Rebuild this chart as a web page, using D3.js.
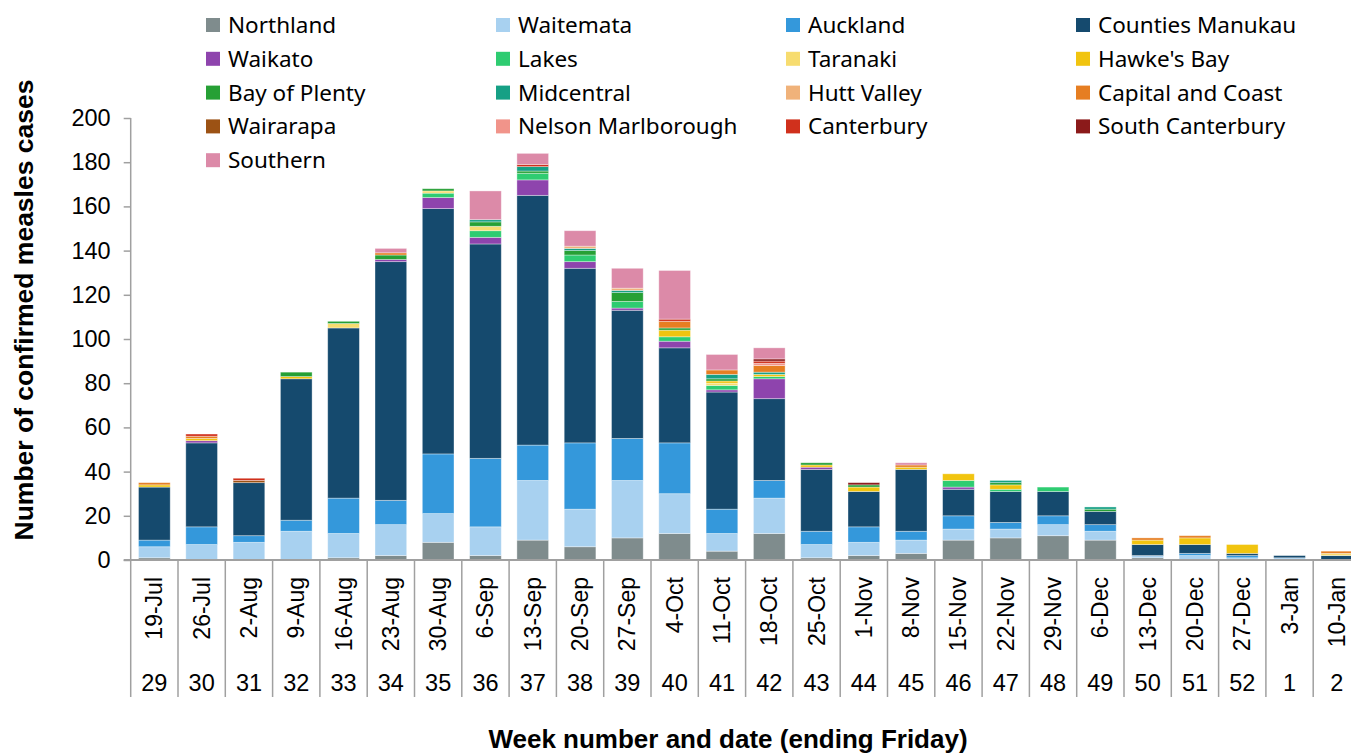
<!DOCTYPE html>
<html>
<head>
<meta charset="utf-8">
<script src="https://cdn.jsdelivr.net/npm/d3@7"></script>
<style>
  body { margin: 0; background: #fff; }
  svg { display: block; }
  .tick text { font-family: "Liberation Sans", Arial, sans-serif; }
</style>
</head>
<body>
<div id="container"></div>
<script>
const weeks = ["19-Jul","26-Jul","2-Aug","9-Aug","16-Aug","23-Aug","30-Aug","6-Sep","13-Sep","20-Sep","27-Sep","4-Oct","11-Oct","18-Oct","25-Oct","1-Nov","8-Nov","15-Nov","22-Nov","29-Nov","6-Dec","13-Dec","20-Dec","27-Dec","3-Jan","10-Jan"];
const weekNums = ["29","30","31","32","33","34","35","36","37","38","39","40","41","42","43","44","45","46","47","48","49","50","51","52","1","2"];

const regions = ["Northland","Waitemata","Auckland","Counties Manukau","Waikato","Lakes","Taranaki","Hawke's Bay","Bay of Plenty","Midcentral","Hutt Valley","Capital and Coast","Wairarapa","Nelson Marlborough","Canterbury","South Canterbury","Southern"];
const colors = ["#7f8c8d","#a8d1f0","#3498db","#154a6e","#8e44ad","#2ecc71","#f7dc6f","#f1c40f","#26a035","#16a085","#f0b27a","#e67e22","#9c5214","#f1948a","#d0301c","#8b1a1a","#dc8aa8"];

const northland   = [1,0,0,0,1,2,8,2,9,6,10,12,4,12,1,2,3,9,10,11,9,1,0,0,0,0];
const waitemata   = [5,7,8,13,11,14,13,13,27,17,26,18,8,16,6,6,6,5,4,5,4,1,2,1,1,0];
const auckland    = [3,8,3,5,16,11,27,31,16,30,19,23,11,8,6,7,4,6,3,4,3,0,1,1,0,0];
const countiesM   = [24,38,24,64,77,108,111,97,113,79,58,43,53,37,28,16,28,12,14,11,6,5,4,1,1,2];
const waikato     = [0,1,0,0,0,1,5,3,7,3,1,3,1,9,1,0,0,1,0,0,0,0,0,0,0,0];
const lakes       = [0,0,0,0,0,0,2,3,3,3,3,2,2,1,0,0,0,3,1,2,0,0,0,0,0,0];
const taranaki    = [0,0,0,0,2,0,1,2,0,0,0,0,1,0,0,0,0,0,0,0,0,0,0,0,0,1];
const hawkesBay   = [1,1,0,1,0,0,0,0,0,0,0,3,1,1,1,2,1,3,2,0,0,2,3,4,0,0];
const bayOfPlenty = [0,0,0,2,1,2,1,2,1,2,4,1,1,0,1,1,0,0,1,0,1,0,0,0,0,0];
const midcentral  = [0,0,0,0,0,0,0,1,2,1,1,0,2,1,0,0,0,0,1,0,1,0,0,0,0,0];
const huttValley  = [0,0,0,0,0,0,0,0,0,1,1,0,0,0,0,0,0,0,0,0,0,0,0,0,0,0];
const capCoast    = [1,1,0,0,0,1,0,0,0,0,0,3,2,3,0,0,1,0,0,0,0,1,1,0,0,1];
const wairarapa   = [0,0,1,0,0,0,0,0,0,0,0,0,0,0,0,0,0,0,0,0,0,0,0,0,0,0];
const nelsonMarl  = [0,0,0,0,0,0,0,0,0,0,0,0,0,1,0,0,0,0,0,0,0,0,0,0,0,0];
const canterbury  = [0,1,1,0,0,0,0,0,1,0,0,1,0,1,0,0,0,0,0,0,0,0,0,0,0,0];
const southCant   = [0,0,0,0,0,0,0,0,0,0,0,0,0,1,0,1,0,0,0,0,0,0,0,0,0,0];
const southern    = [0,0,0,0,0,2,0,13,5,7,9,22,7,5,0,0,1,0,0,0,0,0,0,0,0,0];

const yTicks = [0,20,40,60,80,100,120,140,160,180,200];

const series = [northland,waitemata,auckland,countiesM,waikato,lakes,taranaki,hawkesBay,bayOfPlenty,midcentral,huttValley,capCoast,wairarapa,nelsonMarl,canterbury,southCant,southern];

const w = 1351, h = 755;
const margin = {left: 130.7};
const plotW = 47.3 * weeks.length;

const table = weeks.map((wk, i) => {
    const row = {week: wk};
    regions.forEach((r, j) => row[r] = series[j][i]);
    return row;
});

const stacked = d3.stack().keys(regions)(table);

const x = d3.scaleBand()
    .domain(weeks)
    .range([margin.left, margin.left + plotW])
    .paddingInner(0.33)
    .paddingOuter(0.165);

const y = d3.scaleLinear()
    .domain([0, 200])
    .range([560, 118]);

const color = d3.scaleOrdinal().domain(regions).range(colors);

const svg = d3.select("#container")
    .append("svg")
    .attr("width", w)
    .attr("height", h);

// bars
svg.append("g")
    .selectAll("g")
    .data(stacked)
    .enter()
    .append("g")
    .attr("fill", (d) => color(d.key))
    .selectAll("rect")
    .data((d) => d)
    .enter()
    .filter((d) => d[1] - d[0] > 0)
    .append("rect")
    .attr("x", (d) => x(d.data.week))
    .attr("width", x.bandwidth())
    .attr("y", (d) => y(d[1]))
    .attr("height", (d) => y(d[0]) - y(d[1]))
    .attr("stroke", "rgba(255,255,255,0.45)")
    .attr("stroke-width", 0.8);

// y axis
const yAxis = d3.axisLeft(y).tickValues(yTicks).tickSize(7).tickPadding(13);
const gy = svg.append("g")
    .attr("transform", "translate(" + margin.left + ",0)")
    .call(yAxis);
gy.selectAll("path, line").attr("stroke", "#a0a0a0").attr("stroke-width", 1.5);
gy.select(".domain").attr("d", "M0," + y(200) + "V" + y(0));
gy.selectAll("text").attr("font-size", 23.5).attr("fill", "#000");

// x axis base line
svg.append("line")
    .attr("x1", margin.left - 7).attr("x2", margin.left + plotW)
    .attr("y1", y(0)).attr("y2", y(0))
    .attr("stroke", "#a0a0a0").attr("stroke-width", 2);

// category separators
const step = x.step();
svg.append("g")
    .selectAll("line")
    .data(d3.range(weeks.length + 1))
    .enter()
    .append("line")
    .attr("x1", (i) => margin.left + i * step)
    .attr("x2", (i) => margin.left + i * step)
    .attr("y1", y(0))
    .attr("y2", 697)
    .attr("stroke", "#a0a0a0")
    .attr("stroke-width", 1.5);

// date labels
svg.append("g")
    .selectAll("text")
    .data(weeks)
    .enter()
    .append("text")
    .attr("transform", (d) => "translate(" + (x(d) + x.bandwidth() / 2 + 8) + ",577) rotate(-90)")
    .attr("text-anchor", "end")
    .attr("font-family", "Liberation Sans, Arial, sans-serif")
    .attr("font-size", 23)
    .text((d) => d);

// week number labels
svg.append("g")
    .selectAll("text")
    .data(weekNums)
    .enter()
    .append("text")
    .attr("x", (d, i) => x(weeks[i]) + x.bandwidth() / 2)
    .attr("y", 691)
    .attr("text-anchor", "middle")
    .attr("font-family", "Liberation Sans, Arial, sans-serif")
    .attr("font-size", 23.5)
    .text((d) => d);

// axis titles
svg.append("text")
    .attr("x", 728)
    .attr("y", 748)
    .attr("text-anchor", "middle")
    .attr("font-family", "Liberation Sans, Arial, sans-serif")
    .attr("font-weight", "bold")
    .attr("font-size", 26)
    .text("Week number and date (ending Friday)");

svg.append("text")
    .attr("transform", "translate(33,310) rotate(-90)")
    .attr("text-anchor", "middle")
    .attr("font-family", "Liberation Sans, Arial, sans-serif")
    .attr("font-weight", "bold")
    .attr("font-size", 26.5)
    .text("Number of confirmed measles cases");

// legend
const legend = svg.append("g").attr("id", "legend");
const legItem = legend.selectAll("g")
    .data(regions)
    .enter()
    .append("g")
    .attr("transform", (d, i) => "translate(" + (206 + (i % 4) * 290) + "," + (18 + Math.floor(i / 4) * 33.8) + ")");
legItem.append("rect")
    .attr("width", 14)
    .attr("height", 14)
    .attr("fill", (d) => color(d));
legItem.append("text")
    .attr("x", 22)
    .attr("y", 15)
    .attr("font-family", "Noto Sans, Open Sans, sans-serif")
    .attr("font-size", 22.5)
    .text((d) => d);
</script>
</body>
</html>
